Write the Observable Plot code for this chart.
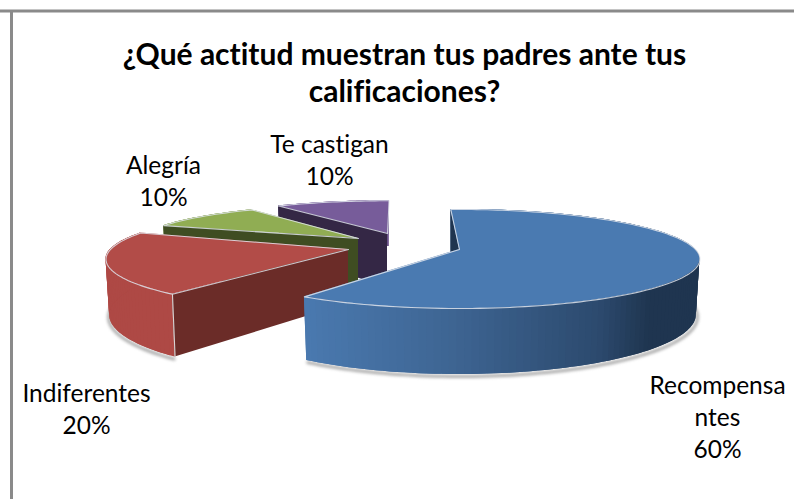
<!DOCTYPE html>
<html><head><meta charset="utf-8">
<script src="https://cdn.jsdelivr.net/npm/d3@7"></script>
<script src="https://cdn.jsdelivr.net/npm/@observablehq/plot@0.6"></script>
<style>html,body{margin:0;padding:0;background:#fff}svg{display:block}svg text{font-variant-ligatures:none;font-feature-settings:"liga" 0,"clig" 0}</style>
</head><body><div id="chart"></div>
<script>
// Data
const categories = ["Recompensantes", "Indiferentes", "Alegría", "Te castigan"];
const shares = [60, 20, 10, 10];
const titleLines = "¿Qué actitud muestran tus padres ante tus\ncalificaciones?";
const wrappedNames = ["Recompensa\nntes", "Indiferentes", "Alegría", "Te castigan"];

// Layout of the exploded perspective pie (one entry per slice)
const apexX = [459, 348, 358, 387];
const apexY = [249, 249, 238, 233];
const radiusX = [236, 238, 221, 217];
const radiusY = [47.7, 49, 40, 39];
const turn = [-2.5, 3, 2, 0.5];
const perspective = 0.192, depth = 54, baseScale = 0.985;
const labelX = [717, 86, 163, 329];
const labelY = [415, 407.5, 179, 158];

// Styles
const topColor = ["#4a7ab1", "#b24c48", "#90ad53", "#775c9a"];
const wallColor = ["#1f3550", "#6b2c28", "#3f4d22", "#342745"];
const rimColor = ["#4a7ab1", "#ae4945", "#7f984a", "#6a5189"];
const blueRamp = d3.scaleLinear().domain([305, 450, 600, 650]).range(["#4a79af", "#3e6593", "#2c4a6e", "#1f3550"]).clamp(true);

// Geometry derived from the shares
const total = d3.sum(shares);
const cumulative = d3.cumsum(shares);
function project(i, deg, isBase) {
  const t = deg * Math.PI / 180, s = Math.sin(t), f = -Math.cos(t), w = 1 - perspective * f;
  const k = isBase ? baseScale : 1;
  return {
    x: apexX[i] + k * radiusX[i] * s / w,
    y: apexY[i] + k * radiusY[i] * f / w + (isBase ? depth / w : 0)
  };
}
const slices = categories.map((name, i) => {
  const a0 = 360 * (cumulative[i] - shares[i]) / total + turn[i];
  const a1 = 360 * cumulative[i] / total + turn[i];
  const steps = Math.max(12, Math.round((a1 - a0) / 1.5));
  const rows = d3.range(steps + 1).map(j => {
    const a = a0 + (a1 - a0) * j / steps;
    const p = project(i, a, false), b = project(i, a, true);
    return {slice: i, j, a, tx: p.x, ty: p.y, bx: b.x, by: b.y, ax: apexX[i], ay: apexY[i]};
  });
  return {i, name, rows};
});
// drawn back to front
const order = [3, 2, 1, 0];

const marks = [
  Plot.ruleY([10.5], {stroke: "#8a8a8a", strokeWidth: 3}),
  Plot.ruleX([11], {y1: 10, y2: 499, stroke: "#8a8a8a", strokeWidth: 3})
];

// soft shadow under the front slices
for (const i of [1, 0]) {
  marks.push(Plot.line(slices[i].rows.filter(r => Math.cos(r.a * Math.PI / 180) < 0.25), {
    x: "bx", y: "by", dy: 2, dx: i === 1 ? -1 : 1, stroke: "#8c8c8c", strokeWidth: 3,
    imageFilter: "blur(1.5px)", strokeOpacity: 0.75
  }));
}

for (const i of order) {
  const rows = slices[i].rows;
  const r0 = rows[0];
  const apexBaseY = apexY[i] + depth;
  // outer curved wall as overlapping thin strips (no seams)
  const strips = rows.slice(0, -1).flatMap((r, j) => {
    const n = rows[Math.min(j + 2, rows.length - 1)];
    const mid = rows[j + 1];
    const c = i === 0 ? blueRamp((r.tx + mid.tx) / 2) : rimColor[i];
    return [{...r, z: j, c}, {...mid, z: j, c}, {...n, z: j, c}];
  });
  marks.push(Plot.area(strips, {
    x1: "tx", y1: "ty", x2: "bx", y2: "by", z: "z", fill: "c"
  }));
  // inner cut wall at the slice start
  marks.push(Plot.area([r0, {...r0, tx: r0.ax, ty: r0.ay, bx: r0.ax, by: apexBaseY}], {
    x1: "tx", y1: "ty", x2: "bx", y2: "by", fill: wallColor[i], curve: "linear"
  }));
  // top face
  marks.push(Plot.area(rows, {x1: "ax", y1: "ay", x2: "tx", y2: "ty", fill: topColor[i]}));
  // pale rim along the top face
  marks.push(Plot.line([{tx: r0.ax, ty: r0.ay}, ...rows, {tx: r0.ax, ty: r0.ay}], {
    x: "tx", y: "ty", stroke: "#dfe4ec", strokeWidth: 1.1, strokeOpacity: 0.85
  }));
  // pale edge down the front corner of the red slice
  if (i === 1) {
    marks.push(Plot.line([{x: r0.tx, y: r0.ty}, {x: r0.bx, y: r0.by}], {
      x: "x", y: "y", stroke: "#d9d4d4", strokeWidth: 1.1
    }));
  }
}

// title and labels
marks.push(Plot.text([titleLines], {
  x: () => 404, y: () => 71, text: d => d, fontFamily: "Lato", fontWeight: 700, fontSize: 30,
  lineHeight: 1.24, fill: "#000", textAnchor: "middle"
}));
marks.push(Plot.text(categories.map((_, i) => i), {
  x: i => labelX[i], y: i => labelY[i],
  text: i => `${wrappedNames[i]}\n${shares[i]}%`,
  fontFamily: "Lato", fontSize: 24.5, lineHeight: 1.31, fill: "#000", textAnchor: "middle"
}));

const chart = Plot.plot({
  width: 794, height: 499,
  marginTop: 0, marginRight: 0, marginBottom: 0, marginLeft: 0,
  x: {domain: [0, 794], axis: null},
  y: {domain: [499, 0], axis: null},
  color: {type: "identity"},
  style: {background: "#fff"},
  marks
});
document.getElementById("chart").append(chart);
</script></body></html>
